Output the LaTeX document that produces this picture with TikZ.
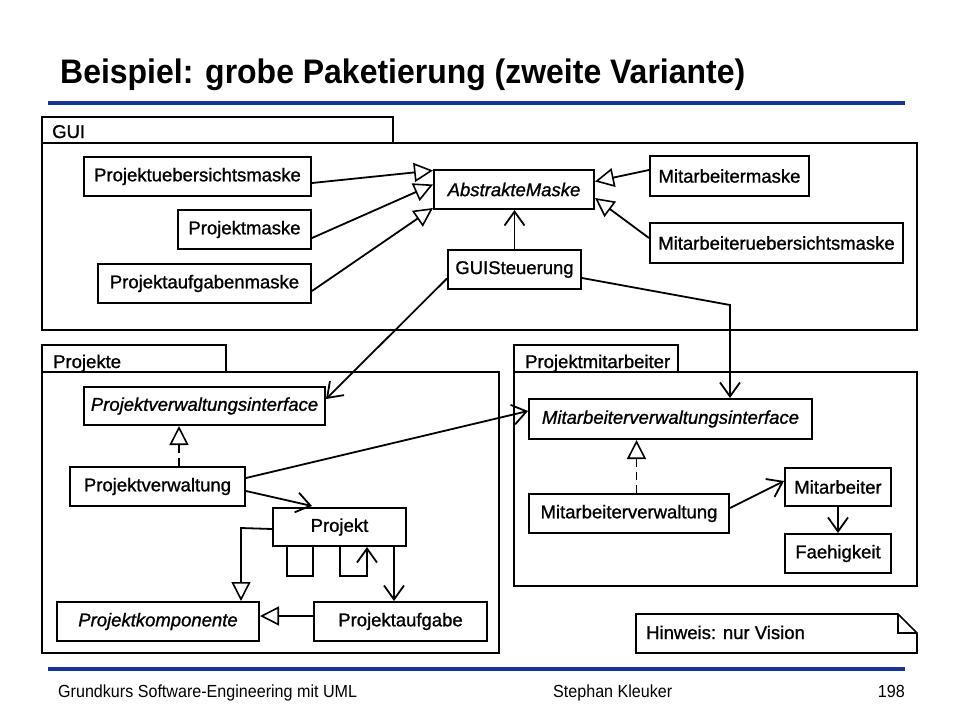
\documentclass[tikz,border=0pt]{standalone}
\usepackage{fontspec}
\setmainfont{Liberation Sans}
\newfontfamily\boxfont{Liberation Sans}[FakeBold=1.1]
\newfontfamily\boxifont{Liberation Sans Italic}[FakeBold=1.1]
\newfontfamily\titlefont{Liberation Sans Bold}[FakeStretch=0.94]
\newfontfamily\footfont{Liberation Sans}[FakeStretch=0.92]
\usetikzlibrary{arrows.meta}
\definecolor{slideblue}{RGB}{22,52,150}
\tikzset{
  box/.style={draw, line width=2pt, inner sep=0pt, anchor=north west, font=\boxfont\fontsize{18.5}{20}\selectfont},
  ibox/.style={box, font=\boxifont\fontsize{18.5}{20}\selectfont},
  pkg/.style={draw, line width=1.7pt},
  pkglabel/.style={anchor=base west, inner sep=0pt, font=\boxfont\fontsize{18.5}{20}\selectfont},
  conn/.style={line width=1.8pt},
  inh/.style={conn, -{Triangle[open, length=19pt, width=19pt, fill=white, line width=1.6pt]}},
  nav/.style={conn, -{Straight Barb[length=14pt, width=20pt, line width=1.8pt]}},
  real/.style={inh, dash pattern=on 8pt off 5pt},
  rule/.style={draw=slideblue, line width=3.5pt},
  foot/.style={anchor=base west, inner sep=0pt, font=\footfont\fontsize{17.5}{19}\selectfont}
}
\begin{document}
\begin{tikzpicture}[x=1pt,y=-1pt]
\useasboundingbox (0,0) rectangle (960,720);
% title and rules
\node[anchor=base west, inner sep=0pt, font=\titlefont\fontsize{34}{36}\selectfont] (title) at (60,83) {Beispiel: grobe Paketierung (zweite Variante)};
\coordinate (r1a) at (48,103); \coordinate (r1b) at (905,103);
\draw[rule] (r1a) -- (r1b);
\coordinate (r2a) at (48,669); \coordinate (r2b) at (905,669);
\draw[rule] (r2a) -- (r2b);
\node[foot] (f1) at (58,697) {Grundkurs Software-Engineering mit UML};
\node[foot] (f2) at (553,697) {Stephan Kleuker};
\node[foot, anchor=base east] (f3) at (905,697) {198};

% packages
\draw[pkg] (42,117) rectangle (393,143);
\draw[pkg] (42,143) rectangle (917,330);
\node[pkglabel] (lgui) at (52,138) {GUI};
\draw[pkg] (42,345) rectangle (226,372);
\draw[pkg] (42,372) rectangle (499,653);
\node[pkglabel] (lproj) at (53,368) {Projekte};
\draw[pkg] (514,345) rectangle (678,372);
\draw[pkg] (514,372) rectangle (917,586);
\node[pkglabel] (lpm) at (525,368) {Projektmitarbeiter};

% GUI classes
\node[box, minimum width=227pt, minimum height=39pt] (pue) at (83,156) {Projektuebersichtsmaske};
\node[box, minimum width=133pt, minimum height=39pt] (pm) at (177,209) {Projektmaske};
\node[box, minimum width=213pt, minimum height=39pt] (pam) at (97,263) {Projektaufgabenmaske};
\node[ibox, minimum width=160pt, minimum height=39pt] (abs) at (433,169) {AbstrakteMaske};
\node[box, minimum width=159pt, minimum height=40pt] (mm) at (649,155) {Mitarbeitermaske};
\node[box, minimum width=253pt, minimum height=40pt] (mum) at (649,222) {Mitarbeiteruebersichtsmaske};
\node[box, minimum width=133pt, minimum height=39pt] (gs) at (447,249) {GUISteuerung};

% Projekte classes
\node[ibox, minimum width=241pt, minimum height=38pt] (pvi) at (83,386) {Projektverwaltungsinterface};
\node[box, minimum width=175pt, minimum height=39pt] (pv) at (69,466) {Projektverwaltung};
\node[box, minimum width=133pt, minimum height=38pt] (proj) at (272,507) {Projekt};
\node[ibox, minimum width=202pt, minimum height=39pt] (pk) at (56,601) {Projektkomponente};
\node[box, minimum width=173pt, minimum height=39pt] (pa) at (313,601) {Projektaufgabe};

% Projektmitarbeiter classes
\node[ibox, minimum width=283pt, minimum height=40pt] (mvi) at (528,398) {Mitarbeiterverwaltungsinterface};
\node[box, minimum width=200pt, minimum height=39pt] (mv) at (528,493) {Mitarbeiterverwaltung};
\node[box, minimum width=106pt, minimum height=38pt] (mit) at (784,467) {Mitarbeiter};
\node[box, minimum width=106pt, minimum height=39pt] (fae) at (784,533) {Faehigkeit};

% note
\draw[pkg] (636,614) -- (898,614) -- (917,633) -- (917,653) -- (636,653) -- cycle;
\draw[pkg] (898,614) -- (898,633) -- (917,633);
\node[anchor=base west, inner sep=0pt, font=\boxfont\fontsize{18.5}{20}\selectfont] (note) at (646,639) {Hinweis: nur Vision};

% GUI connectors
\draw[inh] ([yshift=-6.5pt]pue.east) -- ([yshift=-1.5pt]abs.north west);
\draw[inh] ([yshift=-8.5pt]pm.east) -- ([yshift=5pt]abs.west);
\draw[inh] ([yshift=-7.5pt]pam.east) -- ([yshift=2pt]abs.south west);
\draw[inh] ([yshift=6pt]mm.west) -- ([yshift=8pt]abs.east);
\draw[inh] ([yshift=5pt]mum.west) -- ([yshift=-8.5pt]abs.east);
\draw[nav] (gs.north) -- (gs.north |- abs.south);
\draw[nav] ([yshift=-9pt]gs.west) -- ([yshift=7pt]pvi.east);
\coordinate (bend) at (730,305);
\draw[nav] ([yshift=-8.5pt]gs.east) -- (bend) -- (bend |- mvi.north);

% Projekte connectors
\draw[real] ([xshift=21.5pt]pv.north) -- ([xshift=21.5pt]pv.north |- pvi.south);
\draw[nav] ([yshift=8.5pt]pv.east) -- ([yshift=8pt]mvi.west);
\draw[nav] ([yshift=-4.5pt]pv.east) -- ([xshift=40pt,yshift=1pt]proj.north west);
\coordinate (pkbend) at (241,528);
\draw[inh] ([yshift=-2pt]proj.west) -- (pkbend) -- (pkbend |- pk.north);
\draw[conn] ([xshift=-52.5pt]proj.south) -- ++(0,29) -| ([xshift=-26.5pt]proj.south);
\draw[nav] ([xshift=0.5pt]proj.south) -- ++(0,29) -| ([xshift=27.5pt]proj.south);
\draw[nav] ([xshift=54.5pt]proj.south) -- ([xshift=54.5pt]proj.south |- pa.north);
\draw[inh] ([yshift=5.5pt]pa.west) -- ([yshift=5.5pt]pk.east);

% Projektmitarbeiter connectors
\draw[real] ([xshift=7.5pt]mv.north) -- ([xshift=7.5pt]mv.north |- mvi.south);
\draw[nav] ([yshift=5.5pt]mv.east) -- ([yshift=6pt]mit.west);
\draw[nav] (mit.south) -- (fae.north);
\end{tikzpicture}
\end{document}
